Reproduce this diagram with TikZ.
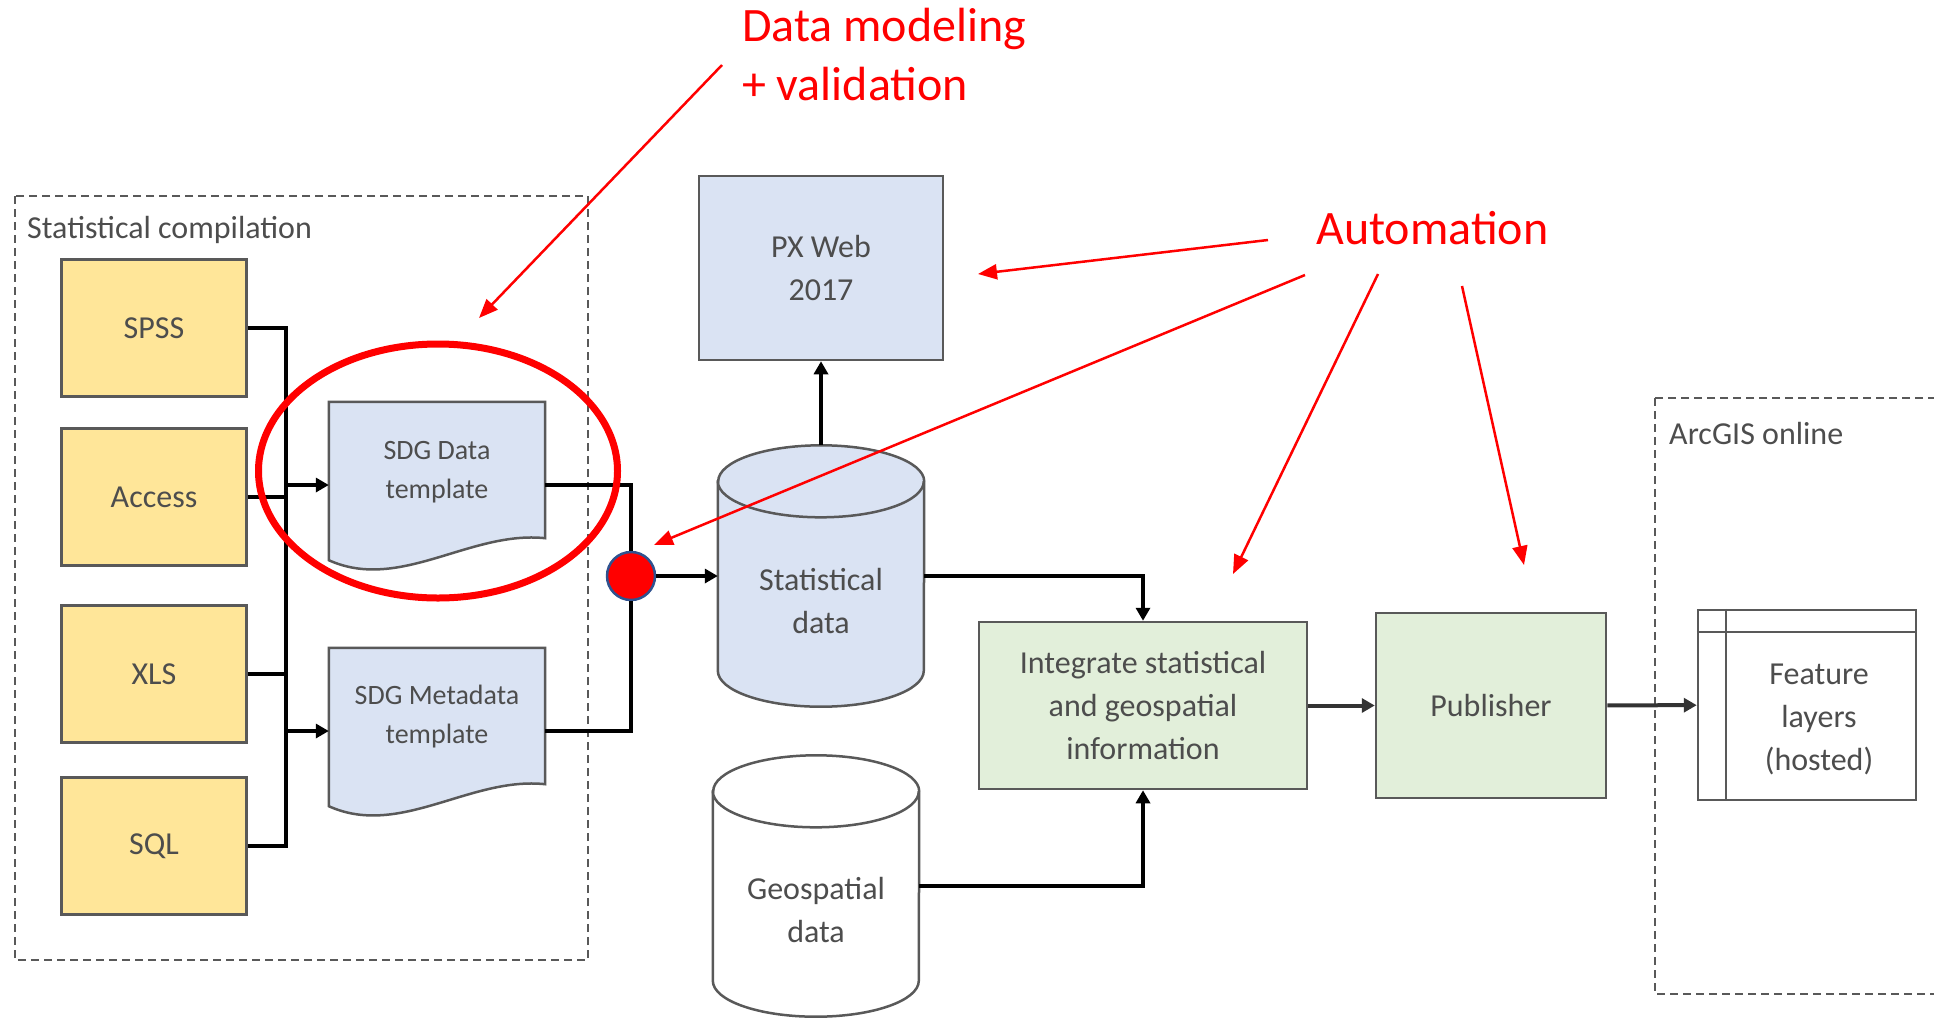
\documentclass[tikz,border=0pt]{standalone}
\usepackage{fontspec}
\setmainfont{Carlito}
\usepackage[HTML]{xcolor}
\usetikzlibrary{positioning, arrows.meta, shapes.geometric, calc}

\definecolor{boxline}{HTML}{595959}
\definecolor{labelgray}{HTML}{4D4D4D}
\definecolor{srcyellow}{HTML}{FFE699}
\definecolor{datablue}{HTML}{DAE3F3}
\definecolor{procgreen}{HTML}{E2EFDA}
\definecolor{dotblue}{HTML}{2F528F}
\definecolor{annotred}{HTML}{FF0000}

\begin{document}
\begin{tikzpicture}[x=1pt, y=-1pt,
  every node/.style={font=\fontsize{32}{43}\selectfont, text=labelgray, align=center},
  groupbox/.style={draw=boxline, line width=2pt, dash pattern=on 8pt off 5pt},
  grouplabel/.style={anchor=west, inner sep=0pt},
  srcbox/.style={draw=boxline, line width=2.5pt, fill=srcyellow, minimum width=185pt, minimum height=137pt},
  plainbox/.style={draw=boxline, line width=2.5pt},
  docnode/.style={minimum width=216pt, minimum height=166pt, inner sep=0pt},
  doctext/.style={font=\fontsize{28}{39}\selectfont},
  cylnode/.style={minimum width=206pt, minimum height=261pt, inner sep=0pt},
  conn/.style={draw=black, line width=4pt},
  tip/.style={-{Triangle[length=13pt,width=14pt]}},
  redarrow/.style={draw=annotred, line width=2.5pt, -{Triangle[length=19pt,width=15pt]}},
  redtext/.style={font=\fontsize{48}{59}\selectfont, text=annotred, inner sep=0pt}
]
\useasboundingbox (0,0) rectangle (1934,1018);

% containers
\draw[groupbox] (15,196) rectangle (588,960);
\draw[groupbox] (1655,398) rectangle (1960,994);
\node[grouplabel] (statlabel) at (27,230) {Statistical compilation};
\node[grouplabel] (arcgislabel) at (1669,433) {ArcGIS online};

% sources
\node[srcbox] (spss) at (154,328) {SPSS};
\node[srcbox] (access) at (154,497) {Access};
\node[srcbox] (xls) at (154,674) {XLS};
\node[srcbox] (sql) at (154,846) {SQL};
\coordinate (bus) at (286,0);

% templates
\node[docnode] (sdgdata) at (437,485) {};
\node[docnode] (sdgmeta) at (437,731) {};
\foreach \doc in {sdgdata, sdgmeta}
  \draw[plainbox, fill=datablue] (\doc.north west) -- (\doc.north east)
    -- ($(\doc.south east)+(0,-30)$)
    .. controls ($(\doc.south east)+(-75,-38)$) and ($(\doc.south west)+(71,24)$) .. ($(\doc.south west)+(0,-8)$)
    -- cycle;
\node[doctext] (sdgdatatext) at ([yshift=13pt]sdgdata.center) {SDG Data\\template};
\node[doctext] (sdgmetatext) at ([yshift=14pt]sdgmeta.center) {SDG Metadata\\template};

% databases
\node[cylnode] (statdata) at (821,576) {};
\node[cylnode] (geodata) at (816,886) {};
\foreach \db/\col in {statdata/datablue, geodata/white} {
  \draw[plainbox, fill=\col] ($(\db.north west)+(0,36)$) -- ($(\db.south west)+(0,-36)$)
    arc[start angle=180, end angle=360, x radius=103pt, y radius=36pt]
    -- ($(\db.north east)+(0,36)$)
    arc[start angle=0, end angle=180, x radius=103pt, y radius=36pt] -- cycle;
  \draw[plainbox] ($(\db.north west)+(0,36)$)
    arc[start angle=180, end angle=360, x radius=103pt, y radius=36pt];
}
\node (statdatatext) at ([yshift=-25pt]statdata.center) {Statistical\\data};
\node (geodatatext) at ([yshift=-24pt]geodata.center) {Geospatial\\data};

% processing
\node[plainbox, fill=datablue, minimum width=244pt, minimum height=184pt] (pxweb) at (821,268) {PX Web\\2017};
\node[plainbox, fill=procgreen, minimum width=328pt, minimum height=167pt] (integrate) at (1143,705.5) {Integrate statistical\\and geospatial\\information};
\node[plainbox, fill=procgreen, minimum width=230pt, minimum height=185pt] (publisher) at (1491,705.5) {Publisher};
\node[plainbox, fill=white, minimum width=218pt, minimum height=190pt] (feature) at (1807,705) {};
\draw[plainbox] ([yshift=-23pt]feature.north west) -- ([yshift=-23pt]feature.north east);
\draw[plainbox] ([xshift=29pt]feature.north west) -- ([xshift=29pt]feature.south west);
\node (featuretext) at ([xshift=12pt,yshift=-14pt]feature.center) {Feature\\layers\\(hosted)};

% junction
\node[circle, fill=red, draw=dotblue, line width=2.5pt, minimum size=48pt, inner sep=0pt] (merge) at (631,576) {};

% connectors
\draw[conn] (spss.east) -- (spss.east -| bus) -- (sql.east -| bus) -- (sql.east);
\draw[conn] (access.east) -- (access.east -| bus);
\draw[conn] (xls.east) -- (xls.east -| bus);
\draw[conn, tip] (sdgdata.west -| bus) -- (sdgdata.west);
\draw[conn, tip] (sdgmeta.west -| bus) -- (sdgmeta.west);
\draw[conn] (sdgdata.east) -| (merge);
\draw[conn] (sdgmeta.east) -| (merge);
\draw[conn, tip] (merge) -- (statdata);
\draw[conn, tip] (statdata.north) -- (pxweb.south);
\draw[conn, tip] (statdata.east) -| (integrate.north);
\draw[conn, tip] (geodata.east) -| (integrate.south);
\draw[conn, draw=black!80, tip] (integrate) -- (publisher);
\draw[conn, draw=black!80, tip] (publisher) -- (feature);

% annotations
\node[draw=annotred, line width=7pt, ellipse, minimum width=359pt, minimum height=254pt, inner sep=0pt] (focus) at (438,471) {};
\node[redtext, anchor=north west, align=left] (modeling) at (742,8) {Data modeling\\+ validation};
\node[redtext, anchor=base west] (automation) at (1316,244) {Automation};
\coordinate (modelingfrom) at (722,65);
\coordinate (modelingto) at (479,318);
\coordinate (pxfrom) at (1268,240);
\coordinate (pxto) at (978,274);
\coordinate (mergefrom) at (1305,275);
\coordinate (mergeto) at (654,545);
\coordinate (integratefrom) at (1378,274);
\coordinate (integrateto) at (1233,574);
\coordinate (publisherfrom) at (1462,286);
\coordinate (publisherto) at (1524,565);
\draw[redarrow] (modelingfrom) -- (modelingto);
\draw[redarrow] (pxfrom) -- (pxto);
\draw[redarrow] (mergefrom) -- (mergeto);
\draw[redarrow] (integratefrom) -- (integrateto);
\draw[redarrow] (publisherfrom) -- (publisherto);
\end{tikzpicture}
\end{document}
